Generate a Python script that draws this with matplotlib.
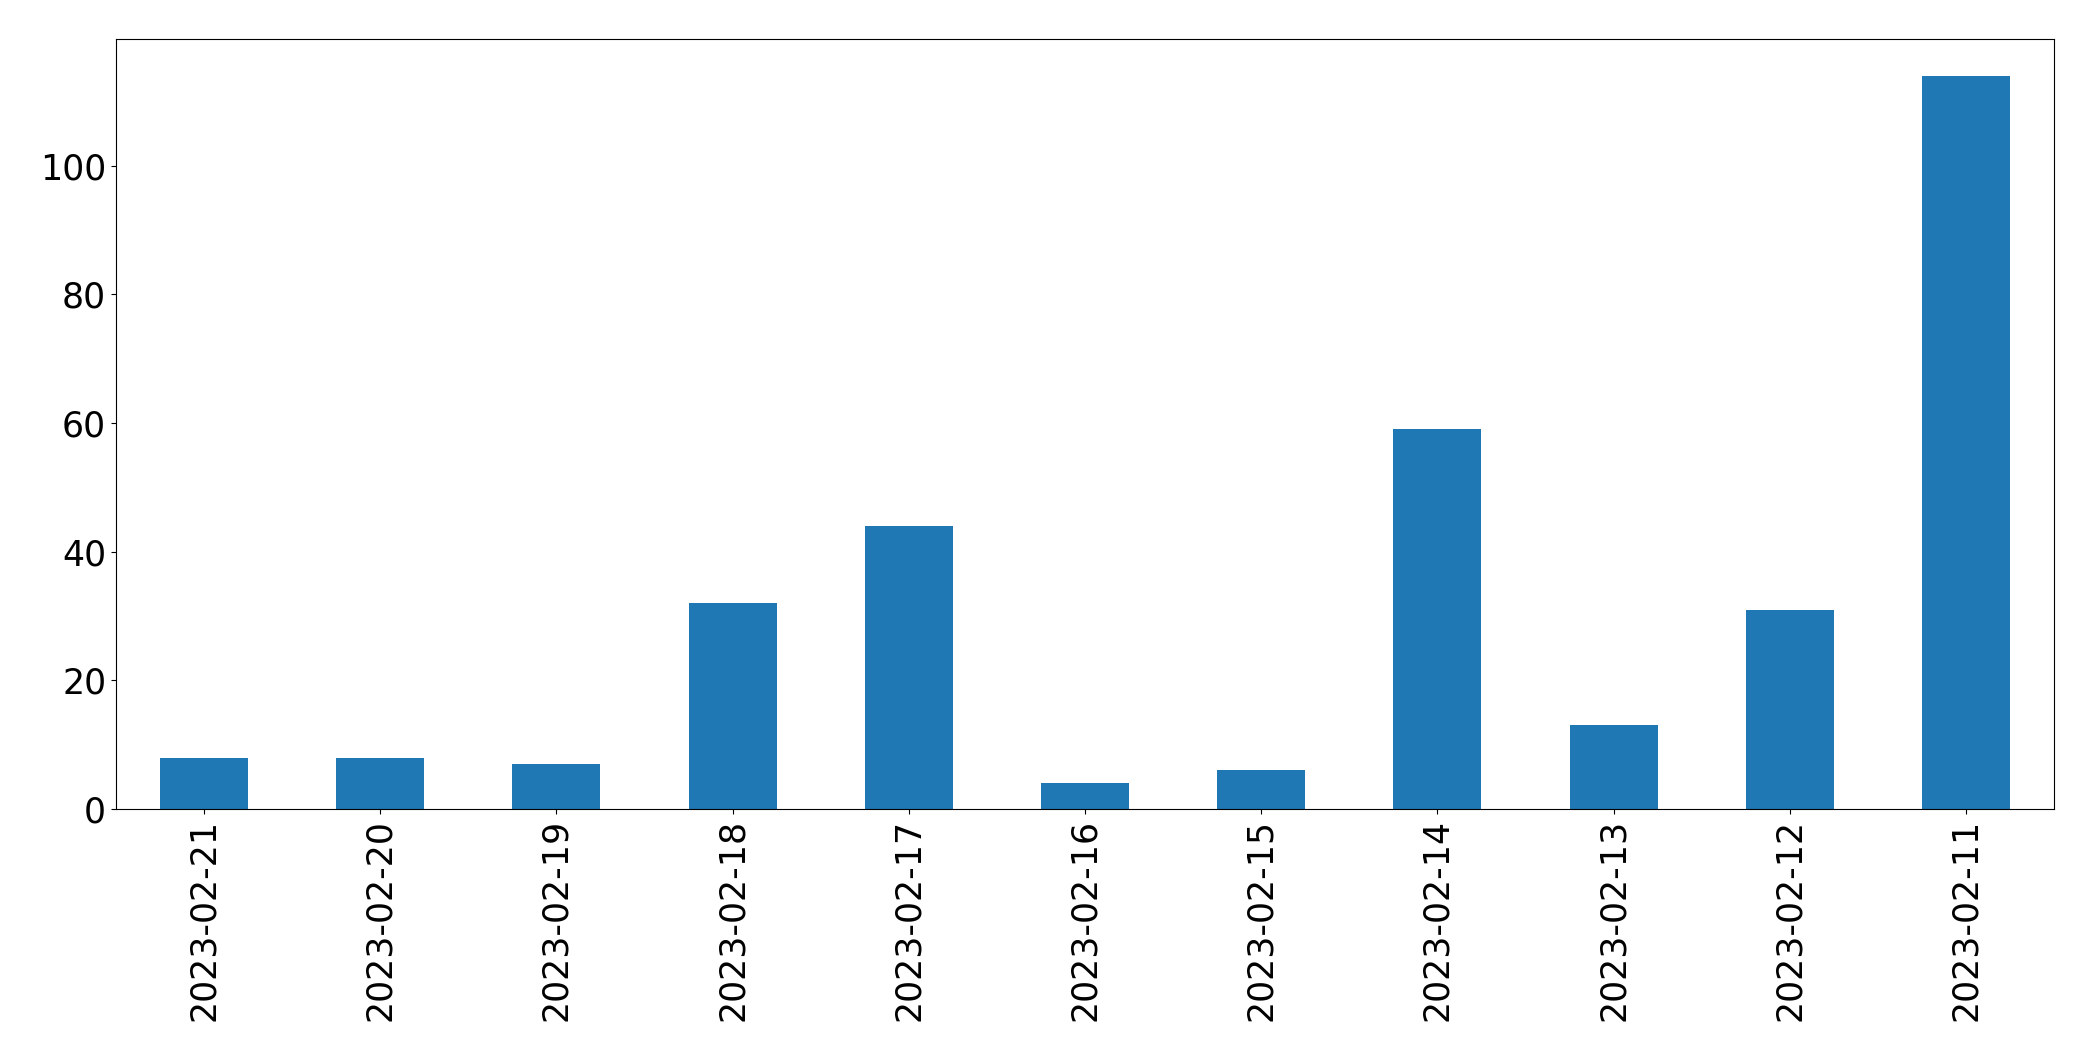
import matplotlib
matplotlib.use('Agg')
import matplotlib.pyplot as plt

dates = ['2023-02-21', '2023-02-20', '2023-02-19', '2023-02-18', '2023-02-17',
         '2023-02-16', '2023-02-15', '2023-02-14', '2023-02-13', '2023-02-12',
         '2023-02-11']
counts = [8, 8, 7, 32, 44, 4, 6, 59, 13, 31, 114]

fig = plt.figure(figsize=(20.93, 10.61), dpi=100)
ax = fig.add_axes([0.0554, 0.2375, 0.926, 0.7257])

pos = list(range(len(dates)))
ax.bar(pos, counts, width=0.5, color='#1f77b4')
ax.set_xlim(-0.5, len(dates) - 0.5)
ax.set_ylim(0, max(counts) * 1.05)
ax.set_xticks(pos)
ax.set_xticklabels(dates, rotation=90)
ax.set_yticks([0, 20, 40, 60, 80, 100])
ax.tick_params(labelsize=25)

fig.savefig('out.png', dpi=100)
